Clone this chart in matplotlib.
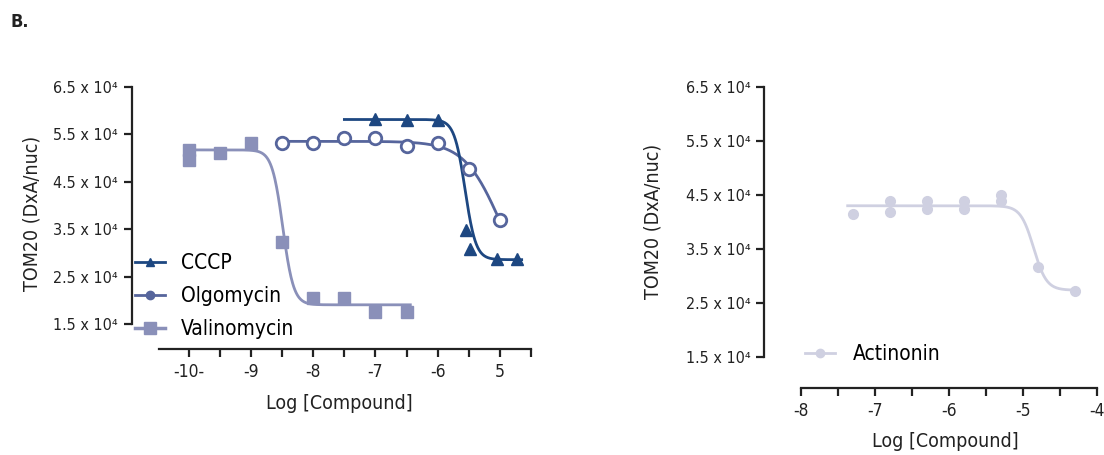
import numpy as np
import matplotlib
matplotlib.use("Agg")
import matplotlib.pyplot as plt
from matplotlib.lines import Line2D

plt.rcParams["font.family"] = ["DejaVu Sans"]
plt.rcParams["font.stretch"] = "condensed"

# ---------- data ----------
cccp_x = [-7.0, -6.5, -6.0, -5.55, -5.48, -5.05, -4.72]
cccp_y = [5.82, 5.79, 5.79, 3.49, 3.09, 2.88, 2.88]
cccp_fit = dict(top=5.81, bottom=2.86, logec50=-5.56, hill=5.0, x0=-7.5, x1=-4.65)

olgo_x = [-8.5, -8.0, -7.5, -7.0, -6.5, -6.0, -5.5, -5.0]
olgo_y = [5.31, 5.31, 5.42, 5.42, 5.26, 5.32, 4.76, 3.70]
olgo_fit = dict(top=5.35, bottom=2.0, logec50=-5.0, hill=1.5, x0=-8.5, x1=-5.0)

vali_x = [-10.0, -10.0, -9.5, -9.0, -8.5, -8.0, -7.5, -7.0, -6.5]
vali_y = [5.17, 4.96, 5.10, 5.32, 3.23, 2.05, 2.05, 1.75, 1.75]
vali_fit = dict(top=5.17, bottom=1.91, logec50=-8.49, hill=5.0, x0=-10.0, x1=-6.44)

acti_x = [-7.3, -6.8, -6.8, -6.3, -6.3, -5.8, -5.8, -5.3, -5.3, -4.8, -4.3]
acti_y = [4.15, 4.38, 4.19, 4.38, 4.24, 4.38, 4.24, 4.50, 4.38, 3.16, 2.73]
acti_fit = dict(top=4.30, bottom=2.74, logec50=-4.86, hill=5.0, x0=-7.37, x1=-4.26)

y_ticks = [1.5, 2.5, 3.5, 4.5, 5.5, 6.5]
y_ticklabels = [f"{v} x 10\u2074" for v in y_ticks]
left_xticks = [-10, -9, -8, -7, -6, -5]
left_xticklabels = ["-10-", "-9", "-8", "-7", "-6", "5"]
right_xticks = [-8, -7, -6, -5, -4]
right_xticklabels = ["-8", "-7", "-6", "-5", "-4"]

C_CCCP = "#1d4781"
C_OLGO = "#56659c"
C_VALI = "#8a90b9"
C_ACTI = "#cfd0e1"
INK = "#222222"

def hill(p):
    xs = np.linspace(p["x0"], p["x1"], 400)
    ys = p["bottom"] + (p["top"] - p["bottom"]) / (1 + 10 ** ((xs - p["logec50"]) * p["hill"]))
    return xs, ys

W, H = 1104, 455
fig = plt.figure(figsize=(W / 100, H / 100), dpi=100)

def px_axes(l, t, r, b):
    return fig.add_axes([l / W, 1 - b / H, (r - l) / W, (b - t) / H])

def style(ax, y_offset_px):
    for s in ["top", "right"]:
        ax.spines[s].set_visible(False)
    for s in ["left", "bottom"]:
        ax.spines[s].set_linewidth(1.6)
        ax.spines[s].set_color(INK)
    ax.spines["left"].set_position(("outward", y_offset_px * 0.72))
    ax.spines["left"].set_bounds(1.5, 6.5)
    ax.set_yticks(y_ticks)
    ax.set_yticklabels(y_ticklabels, fontsize=11.5, color=INK)
    ax.tick_params(axis="both", direction="out", length=6, width=1.6, color=INK, pad=4)
    ax.tick_params(axis="x", labelsize=12.5, labelcolor=INK)
    ax.set_ylabel("TOM20 (DxA/nuc)", fontsize=14, color=INK)
    ax.set_xlabel("Log [Compound]", fontsize=14, color=INK, labelpad=8)

# ---------- left panel ----------
ax = px_axes(159, 86.7, 531, 349.3)
ax.set_xlim(-10.48, -4.5)
ax.set_ylim(0.974, 6.5)
style(ax, 27)
ticks_l = np.arange(-10, -4.4, 0.5)
ax.set_xticks(ticks_l)
ax.set_xticklabels([left_xticklabels[left_xticks.index(int(t))] if float(t).is_integer() else ""
                    for t in ticks_l])
ax.yaxis.set_label_coords(41 / W, 1 - 213 / H, transform=fig.transFigure)
ax.xaxis.set_label_coords(339 / W, 1 - 394 / H, transform=fig.transFigure)

for fitp, col in [(vali_fit, C_VALI), (olgo_fit, C_OLGO), (cccp_fit, C_CCCP)]:
    xs, ys = hill(fitp)
    ax.plot(xs, ys, color=col, lw=2, clip_on=False, zorder=2)
ax.plot(vali_x, vali_y, "s", color=C_VALI, ms=8, ls="none", clip_on=False, zorder=3)
ax.plot(olgo_x, olgo_y, "o", mfc="white", mec=C_OLGO, mew=2, ms=9, ls="none", clip_on=False, zorder=3)
ax.plot(cccp_x, cccp_y, "^", color=C_CCCP, ms=8, ls="none", clip_on=False, zorder=4)

handles = [
    Line2D([], [], color=C_CCCP, lw=2, marker="^", ms=6),
    Line2D([], [], color=C_OLGO, lw=2, marker="o", ms=6),
    Line2D([], [], color=C_VALI, lw=2.5, marker="s", ms=8),
]
fig.legend(handles, ["CCCP", "Olgomycin", "Valinomycin"], loc="upper left",
           bbox_to_anchor=(127 / W, 1 - 245 / H), frameon=False, fontsize=15,
           handlelength=1.4, handletextpad=0.8, labelspacing=0.62, borderaxespad=0)

# ---------- right panel ----------
ax2 = px_axes(801, 86.7, 1097.3, 387.7)
ax2.set_xlim(-8, -4)
ax2.set_ylim(0.938, 6.5)
style(ax2, 36.7)
ticks_r = np.arange(-8, -3.9, 0.5)
ax2.set_xticks(ticks_r)
ax2.set_xticklabels([right_xticklabels[right_xticks.index(int(t))] if float(t).is_integer() else ""
                     for t in ticks_r])
ax2.yaxis.set_label_coords(663 / W, 1 - 221 / H, transform=fig.transFigure)
ax2.xaxis.set_label_coords(945 / W, 1 - 432 / H, transform=fig.transFigure)

xs, ys = hill(acti_fit)
ax2.plot(xs, ys, color=C_ACTI, lw=2, clip_on=False, zorder=2)
ax2.plot(acti_x, acti_y, "o", color=C_ACTI, ms=7, ls="none", clip_on=False, zorder=3)

fig.legend([Line2D([], [], color=C_ACTI, lw=2, marker="o", ms=6)], ["Actinonin"],
           loc="upper left", bbox_to_anchor=(797 / W, 1 - 336 / H), frameon=False, fontsize=15,
           handlelength=1.4, handletextpad=0.9, borderaxespad=0)

fig.text(10 / W, 1 - 22 / H, "B.", fontsize=13, fontweight="bold", color=INK,
         va="center", ha="left")

fig.savefig("out.png", dpi=100)
